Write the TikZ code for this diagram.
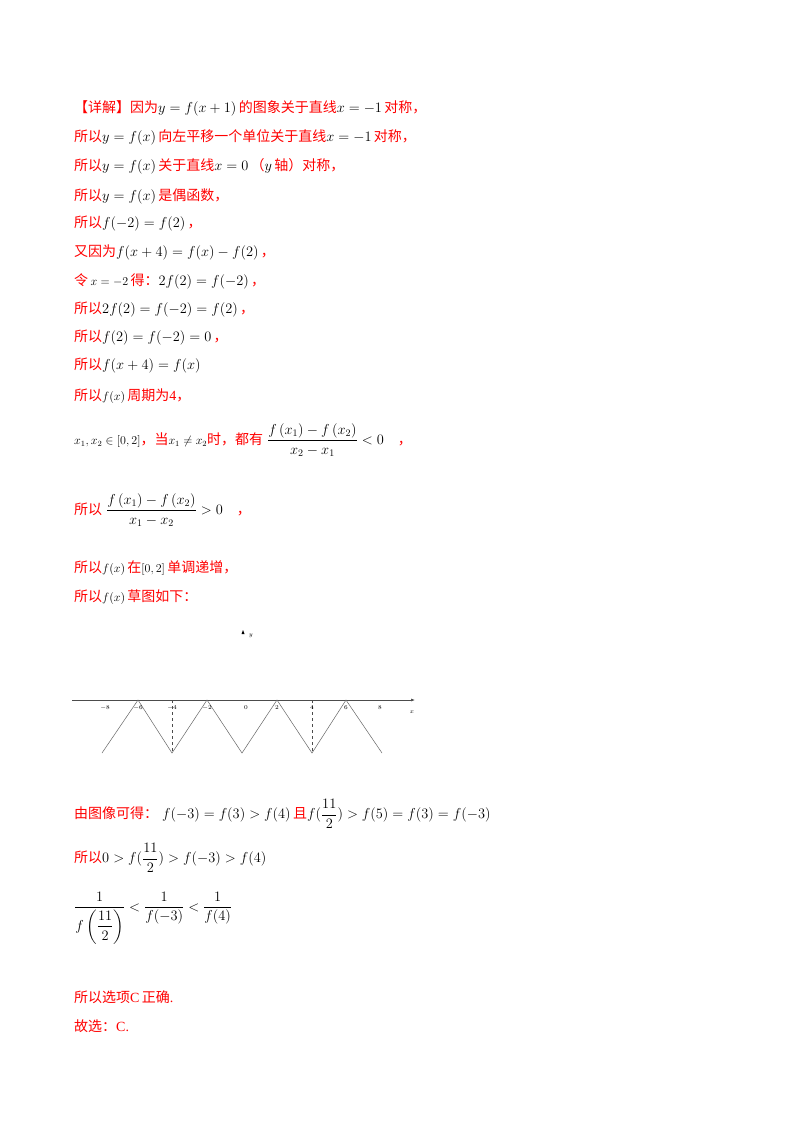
\documentclass[tikz,border=0pt]{standalone}
\usepackage{fontspec}
\usepackage{amsmath}
\usetikzlibrary{arrows.meta}
\setmainfont{Liberation Serif}
\newfontfamily\cjk{Noto Sans CJK SC}
\newcommand{\R}[1]{{\color{red}\cjk #1}}
\newcommand{\sm}{\fontsize{12}{14}\selectfont}
\tikzset{ln/.style={anchor=west,inner sep=0pt,font=\fontsize{14}{17}\selectfont},
 lab/.style={font=\fontsize{6}{7}\selectfont,inner sep=0pt},
 curve/.style={draw=black!60,line width=0.5pt}}
\begin{document}
\begin{tikzpicture}[x=1pt,y=-1pt]
\useasboundingbox[fill=white] (0,0) rectangle (800,1132);
\node[ln] (l1) at (74,108) {\R{【详解】因为}$y=f(x+1)$\,\R{的图象关于直线}$x=-1$\,\R{对称，}};
\node[ln] (l2) at (74,137) {\R{所以}$y=f(x)$\,\R{向左平移一个单位关于直线}$x=-1$\,\R{对称，}};
\node[ln] (l3) at (74,166) {\R{所以}$y=f(x)$\,\R{关于直线}$x=0$\,\R{（}$y$\,\R{轴）对称，}};
\node[ln] (l4) at (74,196) {\R{所以}$y=f(x)$\,\R{是偶函数，}};
\node[ln] (l5) at (74,224) {\R{所以}$f(-2)=f(2)$\,\R{，}};
\node[ln] (l6) at (74,252) {\R{又因为}$f(x+4)=f(x)-f(2)$\,\R{，}};
\node[ln] (l7) at (74,281) {\R{令}\,{\sm$x=-2$}\,\R{得：}$2f(2)=f(-2)$\,\R{，}};
\node[ln] (l8) at (74,310) {\R{所以}$2f(2)=f(-2)=f(2)$\,\R{，}};
\node[ln] (l9) at (74,338) {\R{所以}$f(2)=f(-2)=0$\,\R{，}};
\node[ln] (l10) at (74,366) {\R{所以}$f(x+4)=f(x)$};
\node[ln] (l11) at (74,396) {\R{所以}{\sm$f(x)$}\,\R{周期为}{\color{red}4}\R{，}};
\node[ln] (l12) at (74,440) {{\sm$x_1,x_2\in[0,2]$}\R{，当}{\sm$x_1\neq x_2$}\R{时，都有}\;$\dfrac{f\left(x_1\right)-f\left(x_2\right)}{x_2-x_1}<0$\quad\R{，}};
\node[ln] (l13) at (74,510) {\R{所以}\;$\dfrac{f\left(x_1\right)-f\left(x_2\right)}{x_1-x_2}>0$\quad\R{，}};
\node[ln] (l14) at (74,568) {\R{所以}{\sm$f(x)$}\,\R{在}{\sm$[0,2]$}\,\R{单调递增，}};
\node[ln] (l15) at (74,597) {\R{所以}{\sm$f(x)$}\,\R{草图如下：}};
% graph
\coordinate (xa0) at (72,700);
\coordinate (xa1) at (415,700);
\draw[black!70,line width=0.6pt,-{Latex[length=4pt,width=3pt]}] (xa0) -- (xa1);
\fill (243,630) -- (241.5,634) -- (244.5,634) -- cycle;
\node[lab] (ylab) at (251,636) {$y$};
\node[lab] (xlab) at (412,712) {$x$};
\draw[curve] (102,753) -- (138,700) -- (172,753) -- (207,700) -- (242,753) -- (277,700) -- (312,753) -- (346,700) -- (382,753);
\draw[dashed,black!70] (172,700) -- (172,753);
\draw[dashed,black!70] (312,700) -- (312,753);
\foreach \v/\px in {-8/105,-6/138,-4/172,-2/207,0/246,2/277,4/312,6/346,8/380}
  \node[lab] at (\px,708) {$\v$};
% conclusions
\node[ln] (l17) at (74,814) {\R{由图像可得：}\;$f(-3)=f(3)>f(4)$\,\R{且}$f(\dfrac{11}{2})>f(5)=f(3)=f(-3)$};
\node[ln] (l18) at (74,858) {\R{所以}$0>f(\dfrac{11}{2})>f(-3)>f(4)$};
\node[ln] (l19) at (74,918) {$\dfrac{1}{f\left(\dfrac{11}{2}\right)}<\dfrac{1}{f(-3)}<\dfrac{1}{f(4)}$};
\node[ln] (l20) at (74,997) {\R{所以选项}{\color{red}C}\,\R{正确}{\color{red}.}};
\node[ln] (l21) at (74,1026) {\R{故选：}{\color{red}C.}};
\end{tikzpicture}
\end{document}
